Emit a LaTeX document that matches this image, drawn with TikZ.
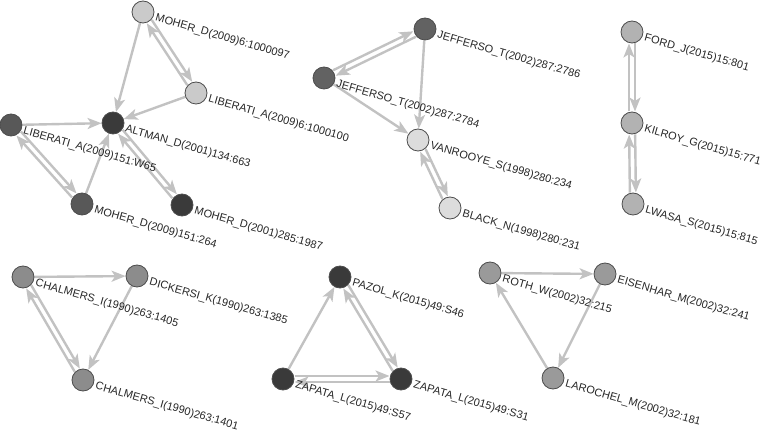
\documentclass[tikz,border=0pt]{standalone}
\usepackage{fontspec}
\setmainfont{Liberation Sans}
\usetikzlibrary{arrows.meta,calc}
\pgfdeclarelayer{bg}
\pgfsetlayers{bg,main}
\definecolor{edgec}{HTML}{C2C2C2}
\definecolor{cA}{HTML}{CACACA}
\definecolor{cB}{HTML}{DCDCDC}
\definecolor{cC}{HTML}{B2B2B2}
\definecolor{cD}{HTML}{8C8C8C}
\definecolor{cE}{HTML}{9A9A9A}
\definecolor{cF}{HTML}{585858}
\definecolor{cG}{HTML}{3A3A3A}
\definecolor{cH}{HTML}{626262}
\newcommand{\offarrow}[2]{\draw[edge] ($(#1)!11.5pt!(#2)!3pt!90:(#2)$) -- ($(#2)!11.5pt!(#1)!3pt!-90:(#1)$);}
\tikzset{
  vert/.style={circle, minimum size=22pt, inner sep=0pt, draw=black!70, line width=0.8pt},
  edge/.style={draw=edgec, line width=2.4pt, -{Stealth[length=14pt,width=11pt,inset=3.5pt]}},
  lab/.style={anchor=north west, rotate=-16, inner sep=0pt, font=\fontsize{11}{12}\selectfont, text=black!85},
}
\begin{document}
\begin{tikzpicture}[x=1pt,y=-1pt]
\useasboundingbox (0,0) rectangle (765,430);
% group 1
\node[vert, fill=cA] (m6) at (143,12) {};
\node[vert, fill=cA] (l6) at (196,93) {};
\node[vert, fill=cG] (alt) at (113,123) {};
\node[vert, fill=cF] (l151) at (11,125) {};
\node[vert, fill=cF] (m151) at (82,204) {};
\node[vert, fill=cG] (m285) at (182,205) {};
% group 2
\node[vert, fill=cH] (j86) at (425,29) {};
\node[vert, fill=cH] (j84) at (324,78) {};
\node[vert, fill=cB] (van) at (418,140) {};
\node[vert, fill=cB] (blk) at (450,208) {};
% group 3
\node[vert, fill=cC] (ford) at (632,32) {};
\node[vert, fill=cC] (kil) at (632,123) {};
\node[vert, fill=cC] (lwa) at (633,204) {};
% group 4
\node[vert, fill=cD] (c05) at (23,277) {};
\node[vert, fill=cD] (dick) at (137,276) {};
\node[vert, fill=cD] (c01) at (83,380) {};
% group 5
\node[vert, fill=cG] (paz) at (340,277) {};
\node[vert, fill=cG] (z57) at (283,379) {};
\node[vert, fill=cG] (z31) at (401,379) {};
% group 6
\node[vert, fill=cE] (roth) at (490,273) {};
\node[vert, fill=cE] (eis) at (605,274) {};
\node[vert, fill=cE] (lar) at (553,378) {};

\begin{pgfonlayer}{bg}
\draw[edge] (m6) -- (alt);
\draw[edge] (l6) -- (alt);
\draw[edge] (l151) -- (alt);
\draw[edge] (m151) -- (alt);
\offarrow{m6}{l6}\offarrow{l6}{m6}
\offarrow{l151}{m151}\offarrow{m151}{l151}
\offarrow{alt}{m285}\offarrow{m285}{alt}
\draw[edge] (j86) -- (van);
\draw[edge] (j84) -- (van);
\offarrow{j86}{j84}\offarrow{j84}{j86}
\offarrow{van}{blk}\offarrow{blk}{van}
\offarrow{ford}{kil}\offarrow{kil}{ford}
\offarrow{kil}{lwa}\offarrow{lwa}{kil}
\draw[edge] (c05) -- (dick);
\draw[edge] (dick) -- (c01);
\offarrow{c05}{c01}\offarrow{c01}{c05}
\draw[edge] (z57) -- (paz);
\offarrow{paz}{z31}\offarrow{z31}{paz}
\offarrow{z57}{z31}\offarrow{z31}{z57}
\draw[edge] (roth) -- (eis);
\draw[edge] (eis) -- (lar);
\draw[edge] (lar) -- (roth);
\end{pgfonlayer}

\node[lab] (m6t) at ($(m6)+(14,1)$) {MOHER\_D(2009)6:1000097};
\node[lab] (l6t) at ($(l6)+(14,1)$) {LIBERATI\_A(2009)6:1000100};
\node[lab] (altt) at ($(alt)+(14,1)$) {ALTMAN\_D(2001)134:663};
\node[lab] (l151t) at ($(l151)+(14,1)$) {LIBERATI\_A(2009)151:W65};
\node[lab] (m151t) at ($(m151)+(14,1)$) {MOHER\_D(2009)151:264};
\node[lab] (m285t) at ($(m285)+(14,1)$) {MOHER\_D(2001)285:1987};
\node[lab] (j86t) at ($(j86)+(14,1)$) {JEFFERSO\_T(2002)287:2786};
\node[lab] (j84t) at ($(j84)+(14,1)$) {JEFFERSO\_T(2002)287:2784};
\node[lab] (vant) at ($(van)+(14,1)$) {VANROOYE\_S(1998)280:234};
\node[lab] (blkt) at ($(blk)+(14,1)$) {BLACK\_N(1998)280:231};
\node[lab] (fordt) at ($(ford)+(14,1)$) {FORD\_J(2015)15:801};
\node[lab] (kilt) at ($(kil)+(14,1)$) {KILROY\_G(2015)15:771};
\node[lab] (lwat) at ($(lwa)+(14,1)$) {LWASA\_S(2015)15:815};
\node[lab] (c05t) at ($(c05)+(14,1)$) {CHALMERS\_I(1990)263:1405};
\node[lab] (dickt) at ($(dick)+(14,1)$) {DICKERSI\_K(1990)263:1385};
\node[lab] (c01t) at ($(c01)+(14,1)$) {CHALMERS\_I(1990)263:1401};
\node[lab] (pazt) at ($(paz)+(14,1)$) {PAZOL\_K(2015)49:S46};
\node[lab] (z57t) at ($(z57)+(14,1)$) {ZAPATA\_L(2015)49:S57};
\node[lab] (z31t) at ($(z31)+(14,1)$) {ZAPATA\_L(2015)49:S31};
\node[lab] (rotht) at ($(roth)+(14,1)$) {ROTH\_W(2002)32:215};
\node[lab] (eist) at ($(eis)+(14,1)$) {EISENHAR\_M(2002)32:241};
\node[lab] (lart) at ($(lar)+(14,1)$) {LAROCHEL\_M(2002)32:181};
\end{tikzpicture}
\end{document}
